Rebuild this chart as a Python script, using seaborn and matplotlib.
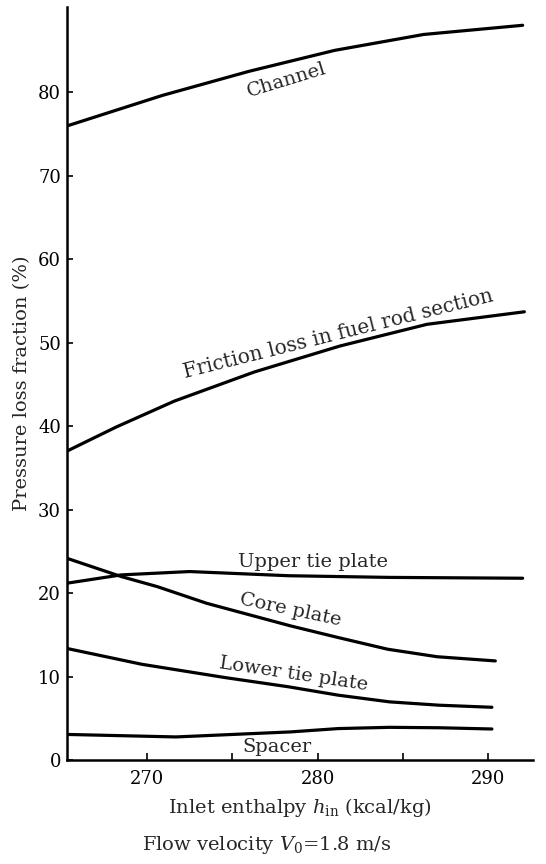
import numpy as np
import pandas as pd
import matplotlib
matplotlib.use("Agg")
import matplotlib.pyplot as plt
import seaborn as sns
from matplotlib.ticker import FixedLocator

# ---- data ----
channel_x = [265.4, 270.9, 276.0, 281.0, 286.2, 292.0]
channel_y = [76.0, 79.6, 82.5, 85.0, 86.9, 88.0]

friction_x = [265.3, 268.2, 271.6, 276.3, 281.3, 286.4, 292.1]
friction_y = [37.0, 39.9, 43.0, 46.5, 49.6, 52.2, 53.7]

upper_x = [265.3, 268.5, 272.5, 278.3, 284.2, 292.0]
upper_y = [21.2, 22.2, 22.6, 22.1, 21.9, 21.8]

core_x = [265.3, 268.5, 270.6, 273.5, 278.4, 281.2, 284.1, 287.0, 290.4]
core_y = [24.2, 22.0, 20.8, 18.8, 16.1, 14.7, 13.3, 12.4, 11.9]

lower_x = [265.3, 269.7, 274.6, 278.3, 281.2, 284.2, 287.1, 290.2]
lower_y = [13.4, 11.5, 9.9, 8.8, 7.8, 7.0, 6.6, 6.35]

spacer_x = [265.3, 271.7, 278.4, 281.2, 284.2, 287.1, 290.2]
spacer_y = [3.1, 2.8, 3.4, 3.8, 3.95, 3.9, 3.75]

series_names = ["Channel", "Friction loss in fuel rod section", "Upper tie plate",
                "Core plate", "Lower tie plate", "Spacer"]

# label placement (data coords) and rotation (deg)
label_x = [278.2, 281.2, 279.7, 278.4, 278.6, 277.6]
label_y = [81.4, 51.0, 23.8, 18.0, 10.3, 1.6]
label_rot = [17, 14, 0, -12, -8.5, 0]

x_major = [270, 280, 290]
x_minor = [275, 285]
y_ticks = [0, 10, 20, 30, 40, 50, 60, 70, 80]

# ---- build long table ----
xs = [channel_x, friction_x, upper_x, core_x, lower_x, spacer_x]
ys = [channel_y, friction_y, upper_y, core_y, lower_y, spacer_y]
frames = []
for name, x, y in zip(series_names, xs, ys):
    frames.append(pd.DataFrame({"h": x, "frac": y, "series": name}))
df = pd.concat(frames, ignore_index=True)

sns.set_style("ticks")
plt.rcParams["font.family"] = ["DejaVu Serif"]
plt.rcParams["mathtext.fontset"] = "dejavuserif"

fig = plt.figure(figsize=(5.46, 8.64), dpi=100)
ax = fig.add_axes([0.122, 0.120, 0.854, 0.872])

sns.lineplot(data=df, x="h", y="frac", hue="series", hue_order=series_names,
             palette=["black"] * len(series_names), estimator=None, sort=False,
             linewidth=2.3, legend=False, ax=ax)

ax.set_xlim(265.3, 292.6)
ax.set_ylim(0, 90.2)

ax.xaxis.set_major_locator(FixedLocator(x_major))
ax.xaxis.set_minor_locator(FixedLocator(x_minor))
ax.set_yticks(y_ticks)
ax.set_xticklabels([str(v) for v in x_major])
ax.set_yticklabels([str(v) for v in y_ticks])

for s in ["top", "right"]:
    ax.spines[s].set_visible(False)
for s in ["left", "bottom"]:
    ax.spines[s].set_linewidth(1.8)
    ax.spines[s].set_color("black")

ax.tick_params(axis="x", which="both", direction="in", length=5, width=1.2,
               labelsize=13, pad=7, colors="black")
ax.tick_params(axis="y", which="both", direction="in", length=4, width=1.2,
               labelsize=13, pad=4, colors="black")

ax.set_xlabel(r"Inlet enthalpy $h_{\rm in}$ (kcal/kg)", fontsize=14, labelpad=6)
ax.set_ylabel("Pressure loss fraction (%)", fontsize=14, labelpad=5)

for name, lx, ly, rot in zip(series_names, label_x, label_y, label_rot):
    fs = 14.5 if name.startswith("Friction") else 14
    ax.text(lx, ly, name, fontsize=fs, rotation=rot, ha="center", va="center",
            rotation_mode="anchor")

fig.text(0.488, 1 - 845 / 864, r"Flow velocity $V_0$=1.8 m/s", fontsize=14,
         ha="center", va="center")

fig.savefig("out.png", dpi=100)
